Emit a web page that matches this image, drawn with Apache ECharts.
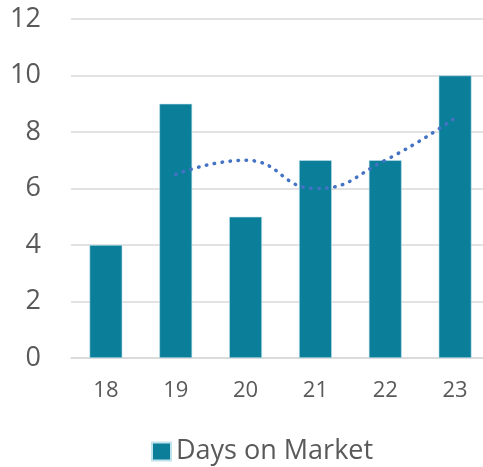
<!DOCTYPE html>
<html>
<head>
<meta charset="utf-8">
<script src="https://cdn.jsdelivr.net/npm/echarts@6/dist/echarts.min.js"></script>
<style>
    html, body { margin: 0; padding: 0; background: #fff; overflow: hidden; }
    #chart { width: 490px; height: 467px; }
</style>
</head>
<body>
<div id="chart"></div>
<script>
// Days on market by week, with 2-period moving average
var categories = ['18', '19', '20', '21', '22', '23'];
var daysOnMarket = [4, 9, 5, 7, 7, 10];
var movingAvg = ['-', 6.5, 7, 6, 7, 8.5];
var yTicks = { min: 0, max: 12, interval: 2 };

var chartElem = document.getElementById('chart');
if (chartElem) {
    var chart = echarts.init(chartElem);
    chart.setOption({
        animation: false,
        textStyle: { fontFamily: 'Open Sans' },
        legend: {
            top: 433,
            left: 146,
            data: ['Days on Market'],
            icon: 'rect',
            itemWidth: 19,
            itemHeight: 18,
            itemGap: 8,
            textStyle: { fontSize: 27, color: '#595959', fontFamily: 'Open Sans' }
        },
        grid: {
            left: 71,
            right: 0,
            top: 19,
            bottom: 109
        },
        xAxis: [{
            type: 'category',
            data: categories,
            axisTick: { show: false },
            axisLine: { show: true, lineStyle: { color: '#d9d9d9', width: 1.5 } },
            axisLabel: { fontSize: 22, color: '#595959', margin: 22 },
            splitLine: { show: false }
        }],
        yAxis: [{
            type: 'value',
            min: yTicks.min,
            max: yTicks.max,
            interval: yTicks.interval,
            axisLine: { show: false },
            axisTick: { show: false },
            axisLabel: { fontSize: 27, color: '#595959', margin: 30 },
            splitLine: { show: true, lineStyle: { color: '#d9d9d9', width: 1.5 } }
        }],
        series: [{
            name: 'Days on Market',
            type: 'bar',
            data: daysOnMarket,
            barCategoryGap: '53%',
            itemStyle: { color: '#0B7E9A', borderColor: '#bfe3ec', borderWidth: 0.6 }
        }, {
            name: 'Moving Average',
            type: 'line',
            data: movingAvg,
            smooth: 0.5,
            showSymbol: false,
            symbol: 'none',
            lineStyle: { color: '#4472C4', width: 3.5, type: [0.5, 7.5], cap: 'round' }
        }]
    });
}
</script>
</body>
</html>
